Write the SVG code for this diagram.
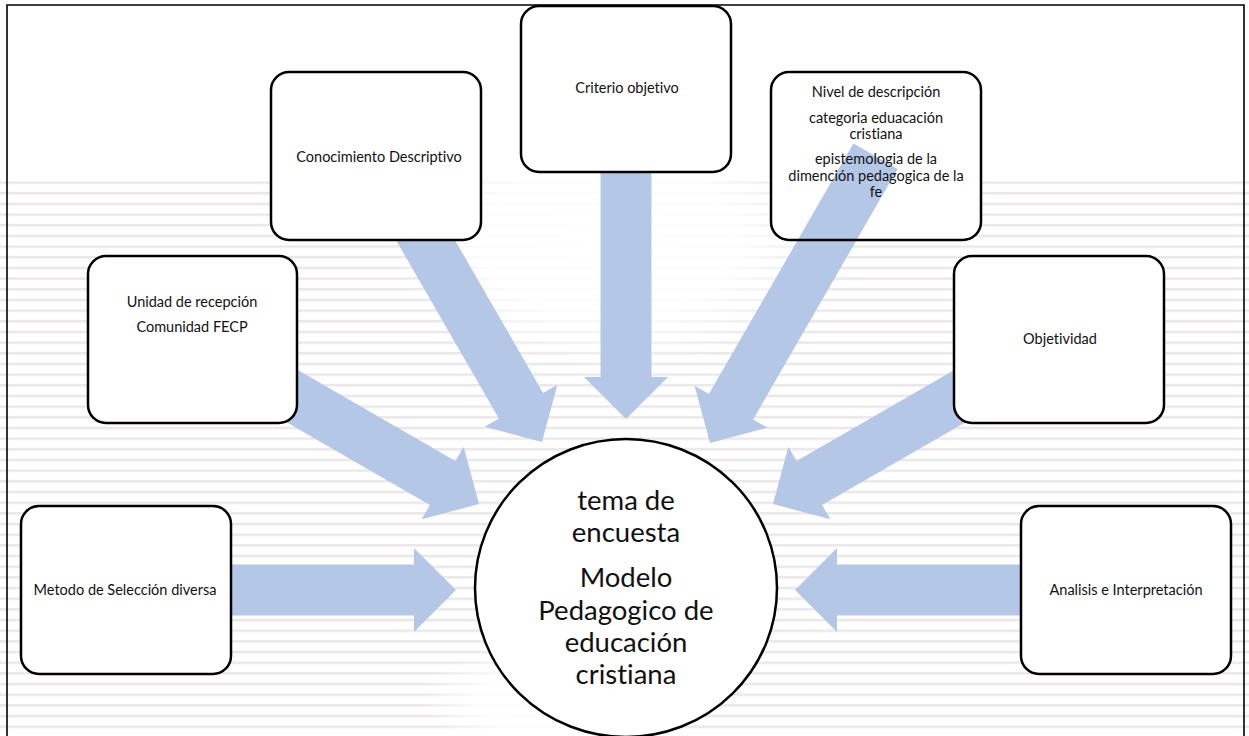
<svg xmlns="http://www.w3.org/2000/svg" width="1249" height="736" viewBox="0 0 1249 736">
<defs>
<pattern id="stripes" patternUnits="userSpaceOnUse" width="20" height="10.67">
<rect x="0" y="0" width="20" height="2.4" fill="#ebe6e8"/>
</pattern>
<radialGradient id="fade" cx="0.5" cy="0.5" r="0.5">
<stop offset="0" stop-color="#fff" stop-opacity="1"/>
<stop offset="0.6" stop-color="#fff" stop-opacity="0.85"/>
<stop offset="1" stop-color="#fff" stop-opacity="0"/>
</radialGradient>
</defs>
<style>
.box{fill:#fff;stroke:#000;stroke-width:2.5}
.arr{fill:#b4c7e7}
.t{font-family:Lato,"Liberation Sans",sans-serif;font-size:14.5px;fill:#111;text-anchor:middle;font-variant-ligatures:none}
.big{font-family:Lato,"Liberation Sans",sans-serif;font-size:27.5px;fill:#111;text-anchor:middle;font-variant-ligatures:none}
</style>
<rect x="0" y="0" width="1249" height="736" fill="#fff"/>
<g id="background">
<rect x="0" y="178" width="1249" height="558" fill="url(#stripes)"/>
<ellipse cx="610" cy="240" rx="220" ry="130" fill="url(#fade)"/>
<ellipse cx="560" cy="700" rx="140" ry="60" fill="url(#fade)"/>
<path d="M7,736 V5 H1244 V736" fill="none" stroke="#000" stroke-width="1.6"/>
<rect x="771" y="72" width="210" height="168" rx="18" fill="#fff"/>
</g>
<g id="connectors">
<polygon class="arr" transform="translate(456,590)" points="0,0 -42,-42 -42,-25.5 -236,-25.5 -236,25.5 -42,25.5 -42,42"/>
<polygon class="arr" transform="translate(795,590) rotate(180)" points="0,0 -42,-42 -42,-25.5 -237,-25.5 -237,25.5 -42,25.5 -42,42"/>
<polygon class="arr" transform="translate(626,419) rotate(90)" points="0,0 -42,-42 -42,-25.5 -259,-25.5 -259,25.5 -42,25.5 -42,42"/>
<polygon class="arr" transform="translate(542,442) rotate(60)" points="0,0 -42,-42 -42,-25.5 -331,-25.5 -331,25.5 -42,25.5 -42,42"/>
<polygon class="arr" transform="translate(710,443) rotate(120)" points="0,0 -42,-42 -42,-25.5 -331,-25.5 -331,25.5 -42,25.5 -42,42"/>
<polygon class="arr" transform="translate(479,504) rotate(30)" points="0,0 -42,-42 -42,-25.5 -230,-25.5 -230,25.5 -42,25.5 -42,42"/>
<polygon class="arr" transform="translate(773,504) rotate(150)" points="0,0 -42,-42 -42,-25.5 -230,-25.5 -230,25.5 -42,25.5 -42,42"/>
</g>
<g id="node-nivel">
<rect x="771" y="72" width="210" height="168" rx="18" fill="none" stroke="#000" stroke-width="2.5"/>
<text class="t" x="876" y="97">Nivel de descripción</text>
<text class="t" x="876" y="123">categoria eduacación</text>
<text class="t" x="876" y="139">cristiana</text>
<text class="t" x="876" y="164">epistemologia de la</text>
<text class="t" x="876" y="181">dimención pedagogica de la</text>
<text class="t" x="876" y="197">fe</text>
</g>
<g id="node-conocimiento">
<rect class="box" x="271" y="72" width="210" height="168" rx="18"/>
<text class="t" x="379" y="162">Conocimiento Descriptivo</text>
</g>
<g id="node-criterio">
<rect class="box" x="521" y="6" width="210" height="166" rx="18"/>
<text class="t" x="627" y="93">Criterio objetivo</text>
</g>
<g id="node-unidad">
<rect class="box" x="88" y="256" width="209" height="167" rx="18"/>
<text class="t" x="192" y="307">Unidad de recepción</text>
<text class="t" x="192" y="332">Comunidad FECP</text>
</g>
<g id="node-objetividad">
<rect class="box" x="954" y="256" width="210" height="167" rx="18"/>
<text class="t" x="1060" y="344">Objetividad</text>
</g>
<g id="node-metodo">
<rect class="box" x="21" y="506" width="210" height="168" rx="18"/>
<text class="t" x="125" y="595">Metodo de Selección diversa</text>
</g>
<g id="node-analisis">
<rect class="box" x="1021" y="506" width="210" height="168" rx="18"/>
<text class="t" x="1126" y="595">Analisis e Interpretación</text>
</g>
<g id="node-center">
<ellipse cx="626" cy="588" rx="151" ry="149" fill="#fff" stroke="#000" stroke-width="2.5"/>
<text class="big" x="626" y="510">tema de</text>
<text class="big" x="626" y="542">encuesta</text>
<text class="big" x="626" y="587">Modelo</text>
<text class="big" x="626" y="620">Pedagogico de</text>
<text class="big" x="626" y="652">educación</text>
<text class="big" x="626" y="684">cristiana</text>
</g>
</svg>
